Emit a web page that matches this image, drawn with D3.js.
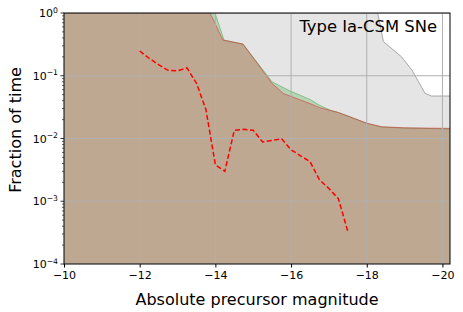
<!DOCTYPE html>
<html>
<head>
<meta charset="utf-8">
<script src="https://cdn.jsdelivr.net/npm/d3@7"></script>
<style>
  body { margin: 0; background: #fff; }
  text { font-family: "DejaVu Sans", sans-serif; fill: #000; }
</style>
</head>
<body>
<div id="graphContainer"></div>
<script>
// absolute magnitude grid and fraction of time for each model
var grayMag = [-10, -18.29, -18.44, -18.92, -19.19, -19.54, -19.71, -20.2]
var grayFrac = [1, 1, 0.35, 0.20, 0.124, 0.0525, 0.0475, 0.0475]

var greenMag = [-10, -13.99, -14.23, -14.73, -15.5, -15.95, -16.5, -16.75, -17.05, -17.25, -17.75, -18.0, -18.4, -19.0, -20.2]
var greenFrac = [1, 1, 0.37, 0.32, 0.08, 0.058, 0.042, 0.034, 0.028, 0.026, 0.02, 0.0175, 0.0152, 0.0147, 0.0142]

var redMag = [-10, -13.86, -14.2, -14.73, -15.5, -15.8, -16.5, -16.76, -17.25, -17.75, -18.0, -18.4, -19.0, -20.2]
var redFrac = [1, 1, 0.37, 0.32, 0.075, 0.052, 0.036, 0.031, 0.026, 0.02, 0.0175, 0.0154, 0.0148, 0.0145]

var dashMag = [-12, -12.25, -12.5, -12.75, -13, -13.25, -13.5, -13.75, -14, -14.25, -14.5, -14.75, -15, -15.25, -15.5, -15.75, -16, -16.25, -16.5, -16.75, -17, -17.25, -17.5]
var dashFrac = [0.248, 0.19, 0.15, 0.122, 0.12, 0.133, 0.076, 0.029, 0.0038, 0.003, 0.0135, 0.014, 0.0135, 0.0088, 0.0093, 0.0099, 0.0066, 0.0053, 0.0043, 0.0022, 0.0016, 0.0011, 0.00033]

var xTicks = [-10, -12, -14, -16, -18, -20]
var yTicks = [1, 0.1, 0.01, 0.001, 0.0001]

var W = 463, H = 312
var margin = {top: 13, right: 13, bottom: 48, left: 64},
width = W - margin.left - margin.right,
height = H - margin.top - margin.bottom

var svg = d3.select("#graphContainer").append("svg")
  .attr("width", W)
  .attr("height", H)
  .append("g")
    .attr("transform", "translate(" + margin.left + "," + margin.top + ")")

var x = d3.scaleLinear().range([0, width]).domain([-10, -20.2])
var y = d3.scaleLog().range([height, 0]).domain([1e-4, 1])

function zip(a, b){
  return a.map(function(d, i){ return [d, b[i]] })
}

var area = d3.area()
  .x(function(d){ return x(d[0]) })
  .y0(height)
  .y1(function(d){ return y(d[1]) })
var line = d3.line()
  .x(function(d){ return x(d[0]) })
  .y(function(d){ return y(d[1]) })

svg.append("clipPath").attr("id", "clip")
  .append("rect").attr("width", width).attr("height", height)
var plot = svg.append("g").attr("clip-path", "url(#clip)")

// filled regions
var gray = zip(grayMag, grayFrac)
plot.append("path").datum(gray).attr("d", area).attr("fill", "#e5e5e5")
plot.append("path").datum(gray).attr("d", line)
  .attr("fill", "none").attr("stroke", "#a8a8a8").attr("stroke-width", 1)

var green = zip(greenMag, greenFrac)
plot.append("path").datum(green).attr("d", area)
  .attr("fill", "#2ca02c").attr("fill-opacity", 0.25)
plot.append("path").datum(green).attr("d", line)
  .attr("fill", "none").attr("stroke", "#2ca02c").attr("stroke-opacity", 0.45).attr("stroke-width", 1)

var red = zip(redMag, redFrac)
plot.append("path").datum(red).attr("d", area)
  .attr("fill", "#d62728").attr("fill-opacity", 0.25)
plot.append("path").datum(red).attr("d", line)
  .attr("fill", "none").attr("stroke", "#d62728").attr("stroke-opacity", 0.5).attr("stroke-width", 1)

// grid
plot.selectAll(".gx").data(xTicks).enter().append("line")
  .attr("x1", x).attr("x2", x).attr("y1", 0).attr("y2", height)
  .attr("stroke", "#b0b0b0").attr("stroke-width", 1)
plot.selectAll(".gy").data(yTicks).enter().append("line")
  .attr("x1", 0).attr("x2", width).attr("y1", y).attr("y2", y)
  .attr("stroke", "#b0b0b0").attr("stroke-width", 1)

plot.append("path").datum(zip(dashMag, dashFrac)).attr("d", line)
  .attr("fill", "none").attr("stroke", "#ff0000").attr("stroke-width", 1.5)
  .attr("stroke-dasharray", "5,2.5")

// axes
svg.append("g")
  .attr("transform", "translate(0," + height + ")")
  .call(d3.axisBottom(x).tickValues(xTicks).tickSize(3.5).tickPadding(3.5)
    .tickFormat(function(d){ return "\u2212" + Math.abs(d) }))
  .call(function(g){
    g.select(".domain").remove()
    g.selectAll("text").style("font-size", "11px").style("font-family", "DejaVu Sans")
  })

var minor = []
for (var e = -4; e < 0; e++) for (var m = 2; m < 10; m++) minor.push(m * Math.pow(10, e))

var yAxis = svg.append("g")
yAxis.selectAll(".minor").data(minor).enter().append("line")
  .attr("x1", -2).attr("x2", 0).attr("y1", y).attr("y2", y)
  .attr("stroke", "#000").attr("stroke-width", 0.6)
yAxis.selectAll(".major").data(yTicks).enter().append("line")
  .attr("x1", -3.5).attr("x2", 0).attr("y1", y).attr("y2", y)
  .attr("stroke", "#000").attr("stroke-width", 0.8)
var lab = yAxis.selectAll(".lab").data(yTicks).enter().append("text")
  .attr("x", -6).attr("y", function(d){ return y(d) + 4 })
  .attr("text-anchor", "end")
  .style("font-size", "11px")
lab.append("tspan").text("10")
lab.append("tspan").attr("dy", -4.5).style("font-size", "7.7px")
  .text(function(d){ var p = Math.round(Math.log10(d)); return p == 0 ? "0" : "\u2212" + Math.abs(p) })

svg.append("rect")
  .attr("width", width).attr("height", height)
  .attr("fill", "none").attr("stroke", "#000").attr("stroke-width", 1)

svg.append("text")
  .attr("x", width / 2).attr("y", height + 41)
  .attr("text-anchor", "middle")
  .style("font-size", "16px")
  .text("Absolute precursor magnitude")

svg.append("text")
  .attr("transform", "rotate(-90)")
  .attr("x", -(130 - margin.top)).attr("y", -43.5)
  .attr("text-anchor", "middle")
  .style("font-size", "16px")
  .text("Fraction of time")

svg.append("text")
  .attr("x", 437 - margin.left).attr("y", 32 - margin.top)
  .attr("text-anchor", "end")
  .style("font-size", "16.4px")
  .text("Type Ia-CSM SNe")
</script>
</body>
</html>
